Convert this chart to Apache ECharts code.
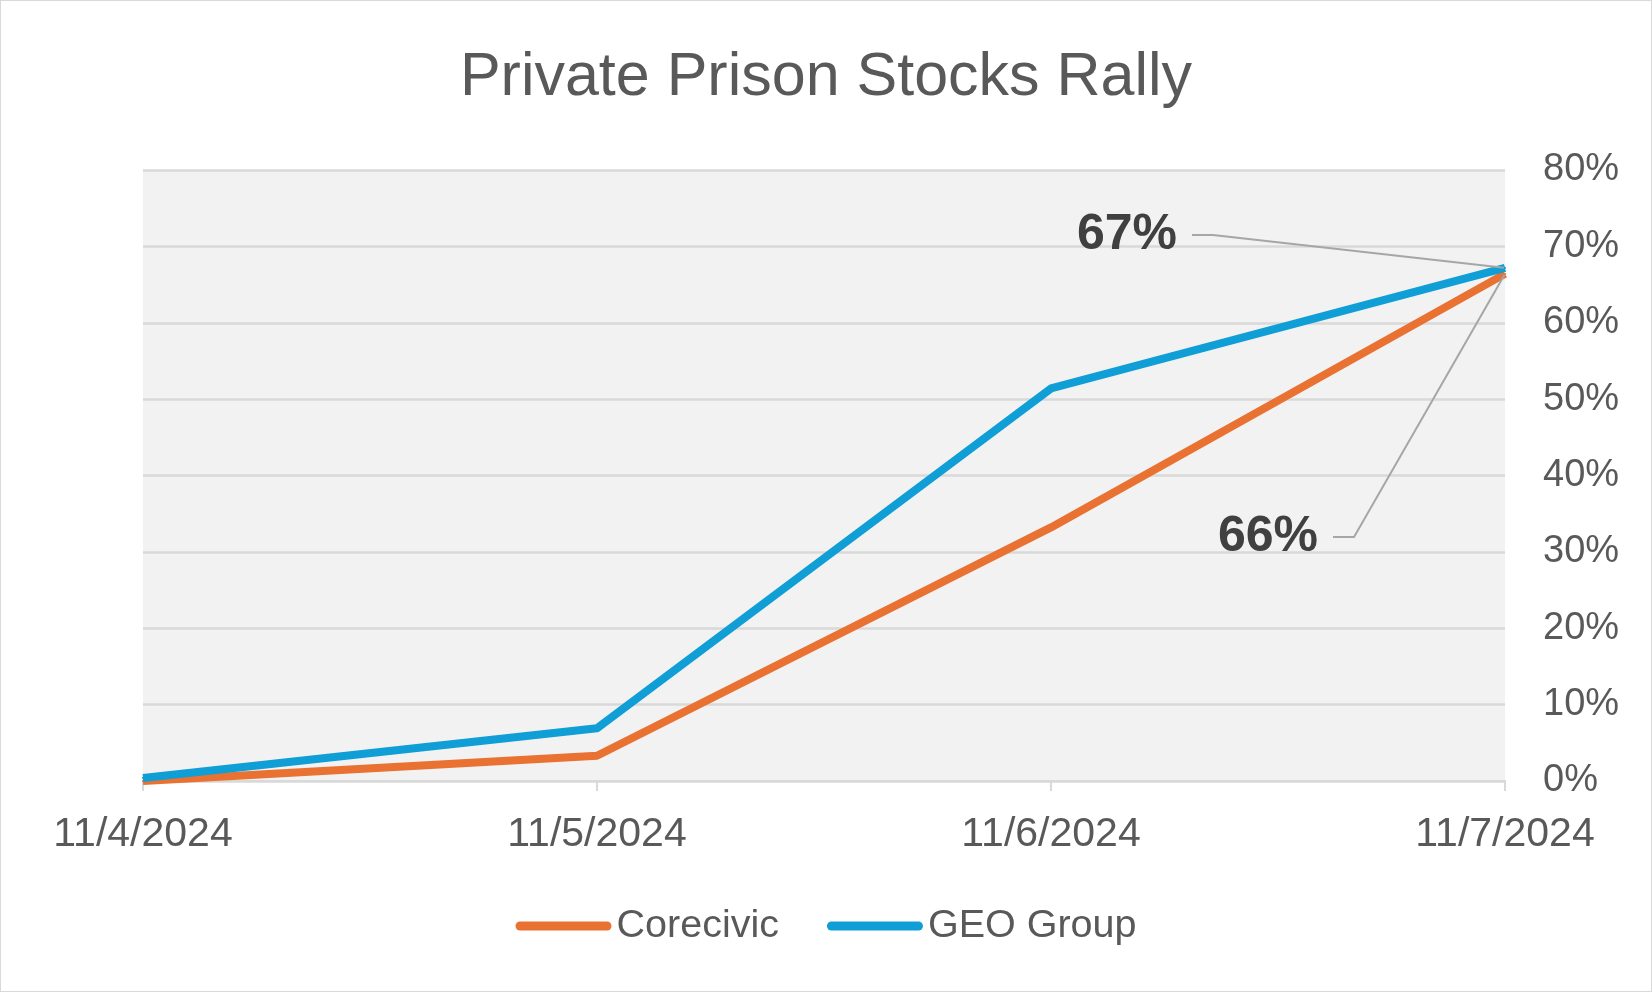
<!DOCTYPE html>
<html>
<head>
<meta charset="utf-8">
<script src="https://cdn.jsdelivr.net/npm/echarts@6/dist/echarts.min.js"></script>
<style>
html,body{margin:0;padding:0;background:#fff;}
#wrap{width:1652px;height:992px;box-sizing:border-box;border:1px solid #d9d9d9;}
#chart{width:1650px;height:990px;}
</style>
</head>
<body>
<div id="wrap"><div id="chart"></div></div>
<script>
const titleText = 'Private Prison Stocks Rally';
const categories = ['11/4/2024', '11/5/2024', '11/6/2024', '11/7/2024'];
const corecivic = [0, 3.3, 33.2, 66.4];
const geoGroup = [0.4, 6.9, 51.4, 67.2];
const seriesNames = ['Corecivic', 'GEO Group'];
const yMin = 0, yMax = 80, yStep = 10;

const FONT = '"Liberation Sans", Arial, sans-serif';
const lastIdx = categories.length - 1;
function withLastLabel(arr) {
  return arr.map((v, i) => i === lastIdx ? { value: v, label: { show: true } } : v);
}

const chart = echarts.init(document.getElementById('chart'), null, { renderer: 'canvas' });
const labelCommon = {
  show: false,
  formatter: p => Math.round(p.value) + '%',
  fontFamily: FONT,
  fontSize: 50,
  fontWeight: 'bold',
  color: '#404040',
  backgroundColor: 'rgba(0,0,0,0)',
  padding: [0, 15]
};
const labelLineCommon = {
  show: true,
  length2: 21,
  lineStyle: { color: '#a6a6a6', width: 2 }
};
chart.setOption({
  animation: false,
  backgroundColor: '#ffffff',
  title: {
    text: titleText,
    left: 'center',
    top: 42,
    textStyle: { fontFamily: FONT, fontSize: 61, fontWeight: 'normal', color: '#595959' }
  },
  grid: {
    left: 142, right: 146, top: 169, bottom: 210,
    show: true, backgroundColor: '#f2f2f2', borderWidth: 0
  },
  legend: {
    data: seriesNames,
    left: 'center',
    top: 900,
    itemWidth: 96,
    itemHeight: 9,
    itemGap: 48,
    icon: 'path://M4.5,0 H91.5 A4.5,4.5 0 0 1 91.5,9 H4.5 A4.5,4.5 0 0 1 4.5,0 Z',
    textStyle: { fontFamily: FONT, fontSize: 39.5, color: '#595959' }
  },
  xAxis: {
    type: 'category',
    data: categories,
    boundaryGap: false,
    axisLine: { lineStyle: { color: '#d9d9d9', width: 2 } },
    axisTick: { show: true, length: 10, alignWithLabel: true, lineStyle: { color: '#d9d9d9', width: 2 } },
    axisLabel: { fontFamily: FONT, fontSize: 41, color: '#595959', margin: 33 },
    splitLine: { show: false }
  },
  yAxis: {
    type: 'value',
    position: 'right',
    min: yMin, max: yMax, interval: yStep,
    axisLine: { show: false },
    axisTick: { show: false },
    axisLabel: { fontFamily: FONT, fontSize: 38, color: '#595959', margin: 38, align: 'left', padding: [6, 0, 0, 0], formatter: '{value}%' },
    splitLine: { lineStyle: { color: '#d9d9d9', width: 2.5 } }
  },
  series: [
    {
      name: seriesNames[0],
      type: 'line',
      data: withLastLabel(corecivic),
      showSymbol: true,
      symbol: 'circle',
      symbolSize: 2,
      color: '#E97132',
      itemStyle: { color: '#E97132' },
      lineStyle: { color: '#E97132', width: 8, join: 'round' },
      label: labelCommon,
      labelLine: labelLineCommon,
      labelLayout: function () { return { x: 1267, y: 536, align: 'center', verticalAlign: 'middle' }; },
      z: 2
    },
    {
      name: seriesNames[1],
      type: 'line',
      data: withLastLabel(geoGroup),
      showSymbol: true,
      symbol: 'circle',
      symbolSize: 2,
      color: '#0F9ED5',
      itemStyle: { color: '#0F9ED5' },
      lineStyle: { color: '#0F9ED5', width: 8, join: 'round' },
      label: labelCommon,
      labelLine: labelLineCommon,
      labelLayout: function () { return { x: 1126, y: 234, align: 'center', verticalAlign: 'middle' }; },
      z: 3
    }
  ]
});
</script>
</body>
</html>
